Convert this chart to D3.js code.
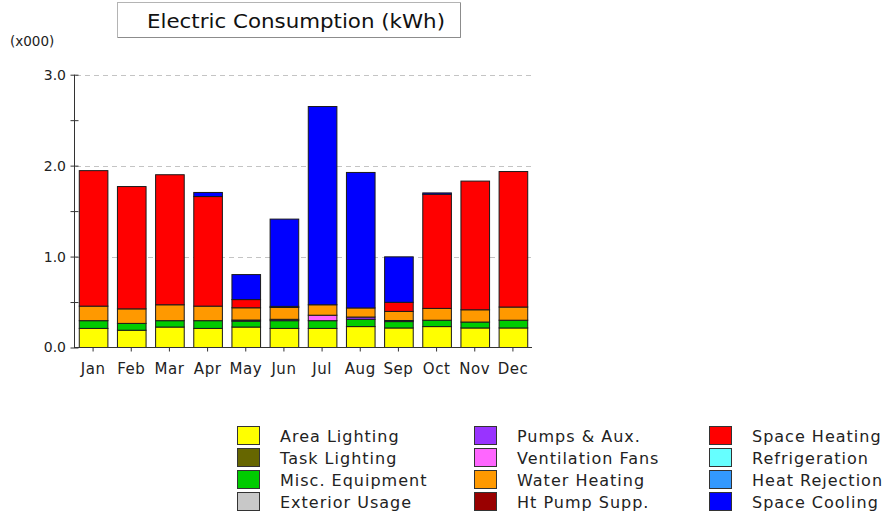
<!DOCTYPE html>
<html>
<head>
<meta charset="utf-8">
<script src="https://cdn.jsdelivr.net/npm/d3@7"></script>
<style>
  html, body { margin: 0; padding: 0; background: #fff; }
  svg { display: block; font-family: "DejaVu Sans", Verdana, sans-serif; }
</style>
</head>
<body>
<svg id="chart" width="888" height="516"></svg>
<script>
// Monthly electric consumption by end use, in thousands of kWh
const months = ["Jan","Feb","Mar","Apr","May","Jun","Jul","Aug","Sep","Oct","Nov","Dec"];

const areaLighting    = [0.21, 0.19, 0.225, 0.21, 0.225, 0.21, 0.21, 0.23, 0.215, 0.23, 0.215, 0.215];
const taskLighting    = [0, 0, 0, 0, 0, 0, 0, 0, 0, 0, 0, 0];
const miscEquipment   = [0.085, 0.075, 0.07, 0.085, 0.065, 0.085, 0.085, 0.08, 0.07, 0.07, 0.065, 0.085];
const exteriorUsage   = [0, 0, 0, 0, 0, 0, 0, 0, 0, 0, 0, 0];
const pumpsAux        = [0, 0, 0, 0, 0.012, 0.015, 0, 0.025, 0.012, 0, 0, 0];
const ventilationFans = [0, 0, 0, 0, 0, 0, 0.06, 0, 0, 0, 0, 0];
const waterHeating    = [0.16, 0.16, 0.175, 0.16, 0.135, 0.13, 0.115, 0.1, 0.1, 0.13, 0.135, 0.145];
const htPumpSupp      = [0, 0, 0, 0, 0, 0, 0, 0, 0, 0, 0, 0];
const spaceHeating    = [1.49, 1.345, 1.43, 1.205, 0.09, 0.012, 0, 0, 0.1, 1.255, 1.415, 1.49];
const refrigeration   = [0, 0, 0, 0, 0, 0, 0, 0, 0, 0, 0, 0];
const heatRejection   = [0, 0, 0, 0, 0, 0, 0, 0, 0, 0, 0, 0];
const spaceCooling    = [0, 0, 0, 0.045, 0.275, 0.96, 2.18, 1.49, 0.5, 0.015, 0, 0];

const seriesNames = ["Area Lighting","Task Lighting","Misc. Equipment","Exterior Usage",
  "Pumps & Aux.","Ventilation Fans","Water Heating","Ht Pump Supp.",
  "Space Heating","Refrigeration","Heat Rejection","Space Cooling"];
const seriesValues = [areaLighting, taskLighting, miscEquipment, exteriorUsage,
  pumpsAux, ventilationFans, waterHeating, htPumpSupp,
  spaceHeating, refrigeration, heatRejection, spaceCooling];
const seriesColors = ["#ffff00","#666600","#00cc00","#c8c8c8",
  "#9933ff","#ff66ff","#ff9900","#990000",
  "#ff0000","#66ffff","#3399ff","#0000ff"];
const yTicks = [0, 1, 2, 3];

// Rows for the stack layout
const rows = months.map((m, i) => {
  const r = { month: m };
  seriesNames.forEach((s, k) => { r[s] = seriesValues[k][i]; });
  return r;
});

const svg = d3.select("#chart");
svg.append("rect").attr("width", 888).attr("height", 516).attr("fill", "#fff");

const x = d3.scaleBand().domain(months).range([74, 532]).paddingInner(0.25).paddingOuter(0.125);
const y = d3.scaleLinear().domain([0, 3]).range([347.5, 74.7]);

// Title box
const title = svg.append("g");
title.append("rect").attr("x", 117.5).attr("y", 2.5).attr("width", 343).attr("height", 35)
  .attr("fill", "#fff").attr("stroke", "#b4b4b4").attr("stroke-width", 1);
title.append("path").attr("d", "M460.5,3 V37.5 H118").attr("fill", "none")
  .attr("stroke", "#8c8c8c").attr("stroke-width", 1);
title.append("text").attr("x", 296).attr("y", 27.5).attr("text-anchor", "middle")
  .attr("font-size", 20).attr("textLength", 298).attr("lengthAdjust", "spacingAndGlyphs")
  .attr("fill", "#111").text("Electric Consumption (kWh)");

// Unit label
svg.append("text").attr("x", 10).attr("y", 46).attr("font-size", 13.5).attr("fill", "#222")
  .text("(x000)");

// Dashed gridlines
svg.append("g").selectAll("line").data(yTicks.filter(d => d > 0)).join("line")
  .attr("x1", 76).attr("x2", 533)
  .attr("y1", d => Math.round(y(d)) + 0.5).attr("y2", d => Math.round(y(d)) + 0.5)
  .attr("stroke", "#c4c4c4").attr("stroke-dasharray", "5,4");

// Stacked bars
const stack = d3.stack().keys(seriesNames);
const layers = stack(rows);
const barG = svg.append("g");
layers.forEach((layer, k) => {
  barG.append("g").attr("fill", seriesColors[k])
    .selectAll("rect")
    .data(layer.filter(d => d[1] - d[0] > 0))
    .join("rect")
    .attr("x", d => x(d.data.month) + 0.5)
    .attr("width", x.bandwidth())
    .attr("y", d => y(d[1]))
    .attr("height", d => y(d[0]) - y(d[1]))
    .attr("stroke", "#1a1a1a")
    .attr("stroke-width", 1);
});

// Y axis
const yAxis = d3.axisLeft(y).tickValues(d3.range(0, 3.01, 0.5)).tickSize(4)
  .tickFormat(d => (d % 1 === 0 ? d3.format(".1f")(d) : ""));
const yg = svg.append("g").attr("transform", "translate(74,0)").call(yAxis);
yg.select(".domain").attr("stroke", "#333").attr("d", `M0.5,${y(3)}V${y(0)}`);
yg.selectAll(".tick line").attr("stroke", "#333").attr("x1", 4).attr("x2", -4)
  .attr("transform", "translate(0.5,0)");
yg.selectAll(".tick text").attr("x", -8).attr("font-size", 14).attr("fill", "#222")
  .attr("font-family", "DejaVu Sans, Verdana, sans-serif");

// X axis
const xAxis = d3.axisBottom(x).tickSize(4).tickPadding(12);
const xg = svg.append("g").attr("transform", "translate(0,347.5)").call(xAxis);
xg.select(".domain").attr("stroke", "#333").attr("d", "M74,0H532");
xg.selectAll(".tick line").attr("stroke", "#333");
xg.selectAll(".tick text").attr("font-size", 15).attr("fill", "#222")
  .attr("letter-spacing", 0.5)
  .attr("font-family", "DejaVu Sans, Verdana, sans-serif");

// Legend: three columns of four entries
const colX = [237, 474, 709];
const legend = svg.append("g");
seriesNames.forEach((name, k) => {
  const col = Math.floor(k / 4), row = k % 4;
  const gx = colX[col], gy = 426 + row * 22;
  legend.append("rect").attr("x", gx + 0.5).attr("y", gy + 0.5).attr("width", 22).attr("height", 18)
    .attr("fill", seriesColors[k]).attr("stroke", "#333");
  legend.append("text").attr("x", gx + 43).attr("y", gy + 15.5).attr("font-size", 16)
    .attr("letter-spacing", 1).attr("fill", "#222").text(name);
});
</script>
</body>
</html>
